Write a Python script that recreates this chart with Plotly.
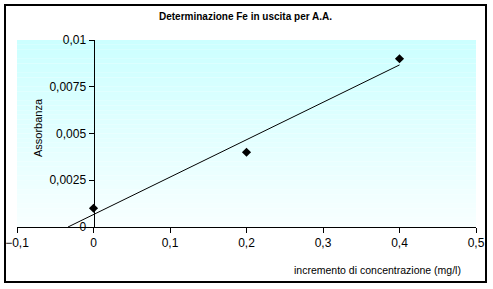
import numpy as np
import plotly.graph_objects as go

# Data
conc = [0.0, 0.2, 0.4]
absorb = [0.001, 0.004, 0.009]
x_ticks = [-0.1, 0, 0.1, 0.2, 0.3, 0.4, 0.5]
y_ticks = [0, 0.0025, 0.005, 0.0075, 0.01]
title = "Determinazione Fe in uscita per A.A."
x_title = "incremento di concentrazione (mg/l)"
y_title = "Assorbanza"

# Linear trendline (least squares) from the data
slope, intercept = np.polyfit(conc, absorb, 1)
x_start = -intercept / slope
trend_x = [x_start, max(conc)]
trend_y = [slope * v + intercept for v in trend_x]

fig = go.Figure()
fig.add_trace(go.Scatter(x=trend_x, y=trend_y, mode="lines",
                         line=dict(color="black", width=1), hoverinfo="skip"))
fig.add_trace(go.Scatter(x=conc, y=absorb, mode="markers",
                         marker=dict(symbol="diamond", size=7, color="black")))

# gradient background (light cyan at top -> near white at bottom)
shapes = []
n = 40
top = np.array([204, 255, 255])
bot = np.array([248, 255, 255])
for i in range(n):
    t = i / (n - 1)
    c = (bot + (top - bot) * t).astype(int)
    shapes.append(dict(type="rect", xref="x domain", yref="y domain",
                       x0=0, x1=1, y0=i / n, y1=(i + 1) / n,
                       fillcolor=f"rgb({c[0]},{c[1]},{c[2]})",
                       line=dict(width=0), layer="below"))
# outer border
shapes.append(dict(type="rect", xref="paper", yref="paper",
                   x0=-12 / 459, x1=469 / 459, y0=-55 / 187, y1=(187 + 35) / 187,
                   line=dict(color="black", width=2), layer="above"))

font = "Liberation Sans, Arial, sans-serif"
fig.update_layout(
    width=493, height=289,
    margin=dict(l=17, r=17, t=40, b=62),
    paper_bgcolor="white", plot_bgcolor="white",
    showlegend=False,
    separators=",.",
    font=dict(family=font, size=11, color="black"),
    shapes=shapes,
    xaxis=dict(range=[-0.1, 0.5], tickvals=x_ticks, ticks="outside", ticklen=5,
               tickcolor="black", showline=True, linecolor="black", linewidth=1,
               showgrid=False, zeroline=False, tickfont=dict(size=12),
               automargin=False),
    yaxis=dict(range=[0, 0.01], tickvals=y_ticks, ticks="outside", ticklen=5,
               tickcolor="black", showline=True, linecolor="black", linewidth=1,
               showgrid=False, zeroline=False, anchor="free",
               position=(0 - (-0.1)) / 0.6, tickfont=dict(size=12),
               automargin=False),
    annotations=[
        dict(text=f"<b>{title}</b>", xref="paper", yref="paper",
             x=(245 - 17) / 459, y=(227 - 17) / 187, showarrow=False,
             font=dict(size=10), xanchor="center", yanchor="middle"),
        dict(text=x_title, xref="paper", yref="paper",
             x=(377 - 17) / 459, y=(227 - 270) / 187, showarrow=False,
             font=dict(size=10.5), xanchor="center", yanchor="middle"),
        dict(text=y_title, xref="paper", yref="paper", textangle=-90,
             x=(38 - 17) / 459, y=(227 - 128) / 187, showarrow=False,
             font=dict(size=11), xanchor="center", yanchor="middle"),
    ],
)

fig.write_html("out.html")
